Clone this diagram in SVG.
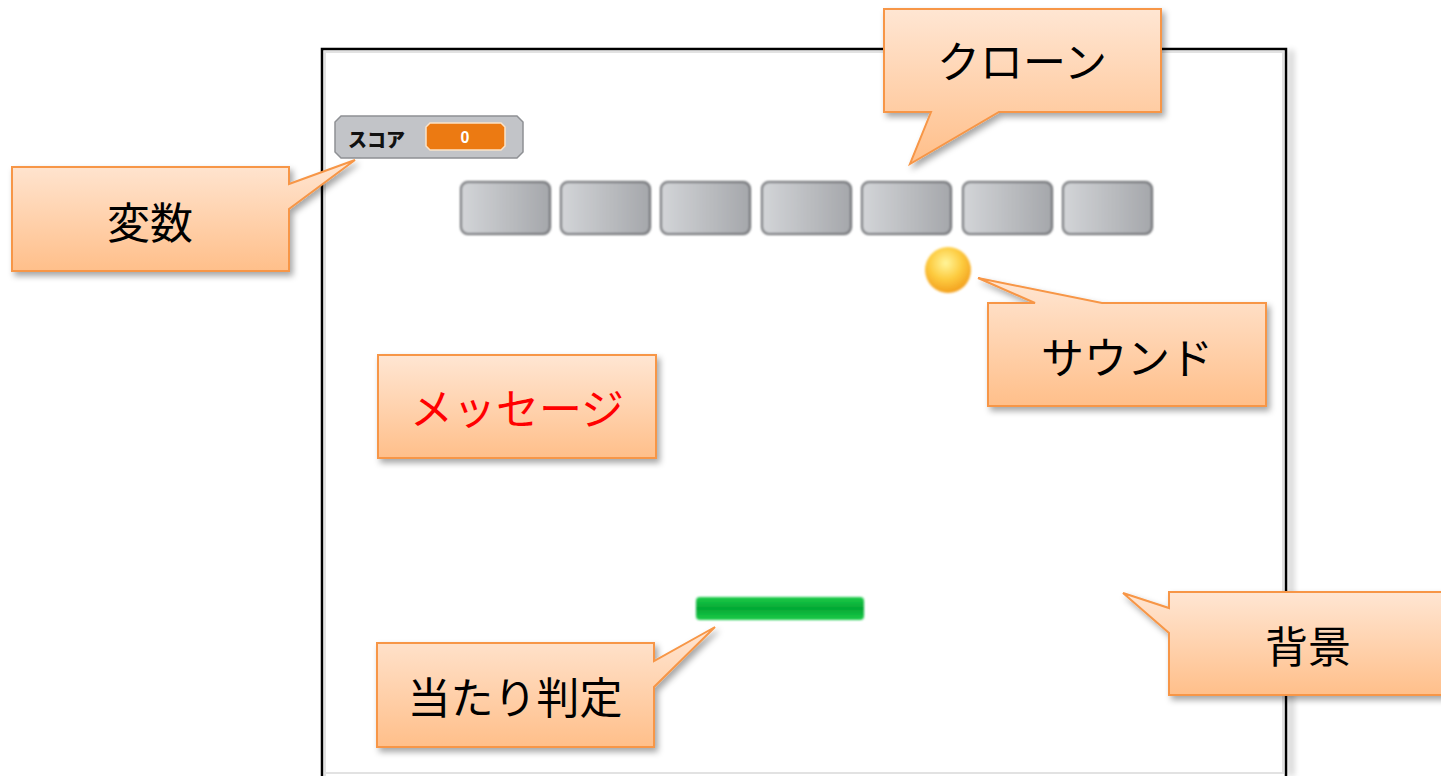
<svg xmlns="http://www.w3.org/2000/svg" width="1441" height="776" viewBox="0 0 1441 776">
  <defs>
    <linearGradient id="calloutFill" x1="0" y1="0" x2="0" y2="1">
      <stop offset="0" stop-color="#FFE6D3"/>
      <stop offset="1" stop-color="#FFBF8A"/>
    </linearGradient>
    <linearGradient id="brickFill" x1="0" y1="0" x2="1" y2="0">
      <stop offset="0" stop-color="#D3D5D8"/>
      <stop offset="1" stop-color="#A5A7AB"/>
    </linearGradient>
    <radialGradient id="ballFill" cx="0.45" cy="0.35" r="0.65">
      <stop offset="0" stop-color="#FFF59A"/>
      <stop offset="0.55" stop-color="#FDCB3F"/>
      <stop offset="1" stop-color="#F3A01E"/>
    </radialGradient>
    <linearGradient id="paddleFill" x1="0" y1="0" x2="0" y2="1">
      <stop offset="0" stop-color="#1BCC4A"/>
      <stop offset="0.5" stop-color="#04A834"/>
      <stop offset="1" stop-color="#1BCC4A"/>
    </linearGradient>
    <filter id="shadow" x="-10%" y="-10%" width="130%" height="140%">
      <feDropShadow dx="3" dy="4" stdDeviation="3" flood-color="#000" flood-opacity="0.35"/>
    </filter>
    <filter id="soft" x="-20%" y="-20%" width="140%" height="140%">
      <feGaussianBlur stdDeviation="0.8"/>
    </filter>
    <filter id="edgeShadow" x="-50%" y="-5%" width="300%" height="110%">
      <feGaussianBlur stdDeviation="3"/>
    </filter>
  </defs>
  <style>
    .callout { fill: url(#calloutFill); stroke: #F79646; stroke-width: 2; filter: url(#shadow); }
    .label { font-family: "Noto Sans CJK JP", "Noto Sans", sans-serif; font-size: 43px; fill: #000; text-anchor: middle; dominant-baseline: central; }
    .brick { fill: url(#brickFill); stroke: #66686C; stroke-width: 2; filter: url(#soft); }
  </style>

  <rect width="1441" height="776" fill="#FFFFFF"/>

  <!-- stage frame -->
  <g id="stage">
    <rect x="1288" y="50" width="6" height="726" fill="#000" opacity="0.18" filter="url(#edgeShadow)"/>
    <path d="M325 776 V52 H1283 V773 H325" fill="none" stroke="#E2E2E2" stroke-width="2"/>
    <path d="M322 776 V49 H1286 V776" fill="none" stroke="#000" stroke-width="2.5"/>
  </g>

  <!-- score monitor -->
  <g id="score">
    <path d="M341 116 H517 L523 122 V152 L517 158 H341 L335 152 V122 Z" fill="#C2C4C8" stroke="#8E9094" stroke-width="1.5"/>
    <text x="348" y="138" font-family="Noto Sans CJK JP, sans-serif" font-weight="900" font-size="19" fill="#111" dominant-baseline="central">スコア</text>
    <path d="M430 123 H501 L505 127 V146 L501 150 H430 L426 146 V127 Z" fill="#EC7A12" stroke="#FBE3C8" stroke-width="1.5"/>
    <text x="465" y="137" font-family="Liberation Sans, sans-serif" font-weight="bold" font-size="16" fill="#FFF" text-anchor="middle" dominant-baseline="central">0</text>
  </g>

  <!-- bricks -->
  <g id="bricks">
    <rect class="brick" x="461" y="182" width="89" height="52" rx="7"/>
    <rect class="brick" x="561" y="182" width="89" height="52" rx="7"/>
    <rect class="brick" x="661" y="182" width="89" height="52" rx="7"/>
    <rect class="brick" x="762" y="182" width="89" height="52" rx="7"/>
    <rect class="brick" x="862" y="182" width="89" height="52" rx="7"/>
    <rect class="brick" x="963" y="182" width="89" height="52" rx="7"/>
    <rect class="brick" x="1063" y="182" width="89" height="52" rx="7"/>
  </g>

  <!-- ball -->
  <g id="ball">
    <circle cx="948" cy="270" r="23" fill="url(#ballFill)" filter="url(#soft)"/>
  </g>

  <!-- paddle -->
  <g id="paddle">
    <rect x="696" y="597" width="168" height="23" rx="4" fill="url(#paddleFill)" filter="url(#soft)"/>
  </g>

  <!-- callout connectors are the tails of each balloon -->
  <g id="connectors"/>

  <g id="callout-clone">
    <path class="callout" d="M884 9 H1161 V112 H999 L910 164 L931 112 H884 Z"/>
    <text class="label" x="1022" y="59">クローン</text>
  </g>

  <g id="callout-variable">
    <path class="callout" d="M12 167 H289 V184 L355 160 L289 209 V271 H12 Z"/>
    <text class="label" x="150" y="220">変数</text>
  </g>

  <g id="callout-sound">
    <path class="callout" d="M988 303 H1035 L978 278 L1102 303 H1266 V406 H988 Z"/>
    <text class="label" x="1127" y="355">サウンド</text>
  </g>

  <g id="callout-message">
    <rect class="callout" x="378" y="355" width="278" height="103"/>
    <text class="label" x="517" y="406" style="fill:#FF0000">メッセージ</text>
  </g>

  <g id="callout-hit">
    <path class="callout" d="M377 643 H654 V661 L715 627 L654 687 V747 H377 Z"/>
    <text class="label" x="515" y="695">当たり判定</text>
  </g>

  <g id="callout-background">
    <path class="callout" d="M1169 592 H1450 V695 H1169 V633 L1123 593 L1169 608 Z"/>
    <text class="label" x="1308" y="644">背景</text>
  </g>
</svg>
